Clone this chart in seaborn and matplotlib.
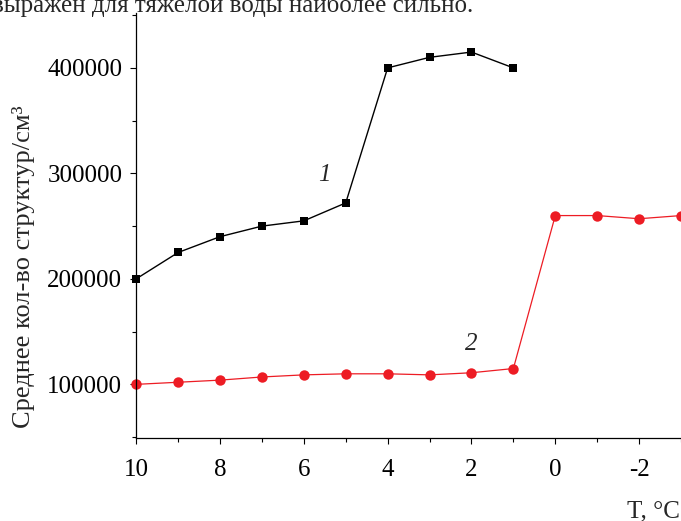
import numpy as np
import pandas as pd
import seaborn as sns
import matplotlib.pyplot as plt
from matplotlib.ticker import MultipleLocator

# Данные
t1 = [10, 9, 8, 7, 6, 5, 4, 3, 2, 1]
n1 = [200000, 225000, 240000, 250000, 255000, 272000, 400000, 410000, 415000, 400000]
t2 = [10, 9, 8, 7, 6, 5, 4, 3, 2, 1, 0, -1, -2, -3]
n2 = [100000, 102000, 104000, 107000, 109000, 110000, 110000, 109000, 111000, 115000,
      260000, 260000, 257000, 260000]
x_ticks = [10, 8, 6, 4, 2, 0, -2]
y_ticks = [100000, 200000, 300000, 400000]

df1 = pd.DataFrame({'T': t1, 'N': n1})
df2 = pd.DataFrame({'T': t2, 'N': n2})

sns.set_style("ticks")
plt.rcParams['font.family'] = ['Liberation Serif', 'DejaVu Serif']
plt.rcParams['axes.unicode_minus'] = False

fig = plt.figure(figsize=(6.81, 5.21), dpi=100)
ax = fig.add_axes([0.2, 0.159, 0.8, 0.816])

red = '#ed1c24'
sns.lineplot(data=df2, x='T', y='N', ax=ax, color=red, linewidth=0.9,
             marker='o', markersize=7.5, markeredgewidth=0, markerfacecolor=red,
             clip_on=False)
sns.lineplot(data=df1, x='T', y='N', ax=ax, color='black', linewidth=1.0,
             marker='s', markersize=6.2, markeredgewidth=0, markerfacecolor='black',
             clip_on=False)

ax.set_xlim(10, -3)
ax.set_ylim(49000, 452000)
ax.set_xticks(x_ticks)
ax.set_yticks(y_ticks)
ax.xaxis.set_minor_locator(MultipleLocator(1))
ax.yaxis.set_minor_locator(MultipleLocator(50000))
ax.tick_params(axis='both', which='major', direction='out', length=4, width=0.8,
               labelsize=18, pad=6, color='black', labelcolor='black')
ax.tick_params(axis='x', which='major', pad=11)
ax.tick_params(axis='both', which='minor', direction='out', length=2.8, width=0.8,
               color='black')
ax.set_xlabel('')
ax.set_ylabel('')

sns.despine(ax=ax)
for s in ['left', 'bottom']:
    ax.spines[s].set_linewidth(0.9)
    ax.spines[s].set_color('black')

ax.text(5.5, 298000, '1', fontsize=18, style='italic', ha='center', va='center')
ax.text(2.0, 138000, '2', fontsize=18, style='italic', ha='center', va='center')

fig.text(0.034, 1 - 267 / 521, 'Среднее кол-во структур/см³', rotation=90,
         fontsize=19, ha='center', va='center')
fig.text(0.999, 1 - 511 / 521, 'T, °C', fontsize=18, ha='right', va='center')
fig.text(-0.012, 1 - 12 / 521, 'выражен для тяжелой воды наиболее сильно.',
         fontsize=18, ha='left', va='baseline')

fig.savefig('out.png', dpi=100)
